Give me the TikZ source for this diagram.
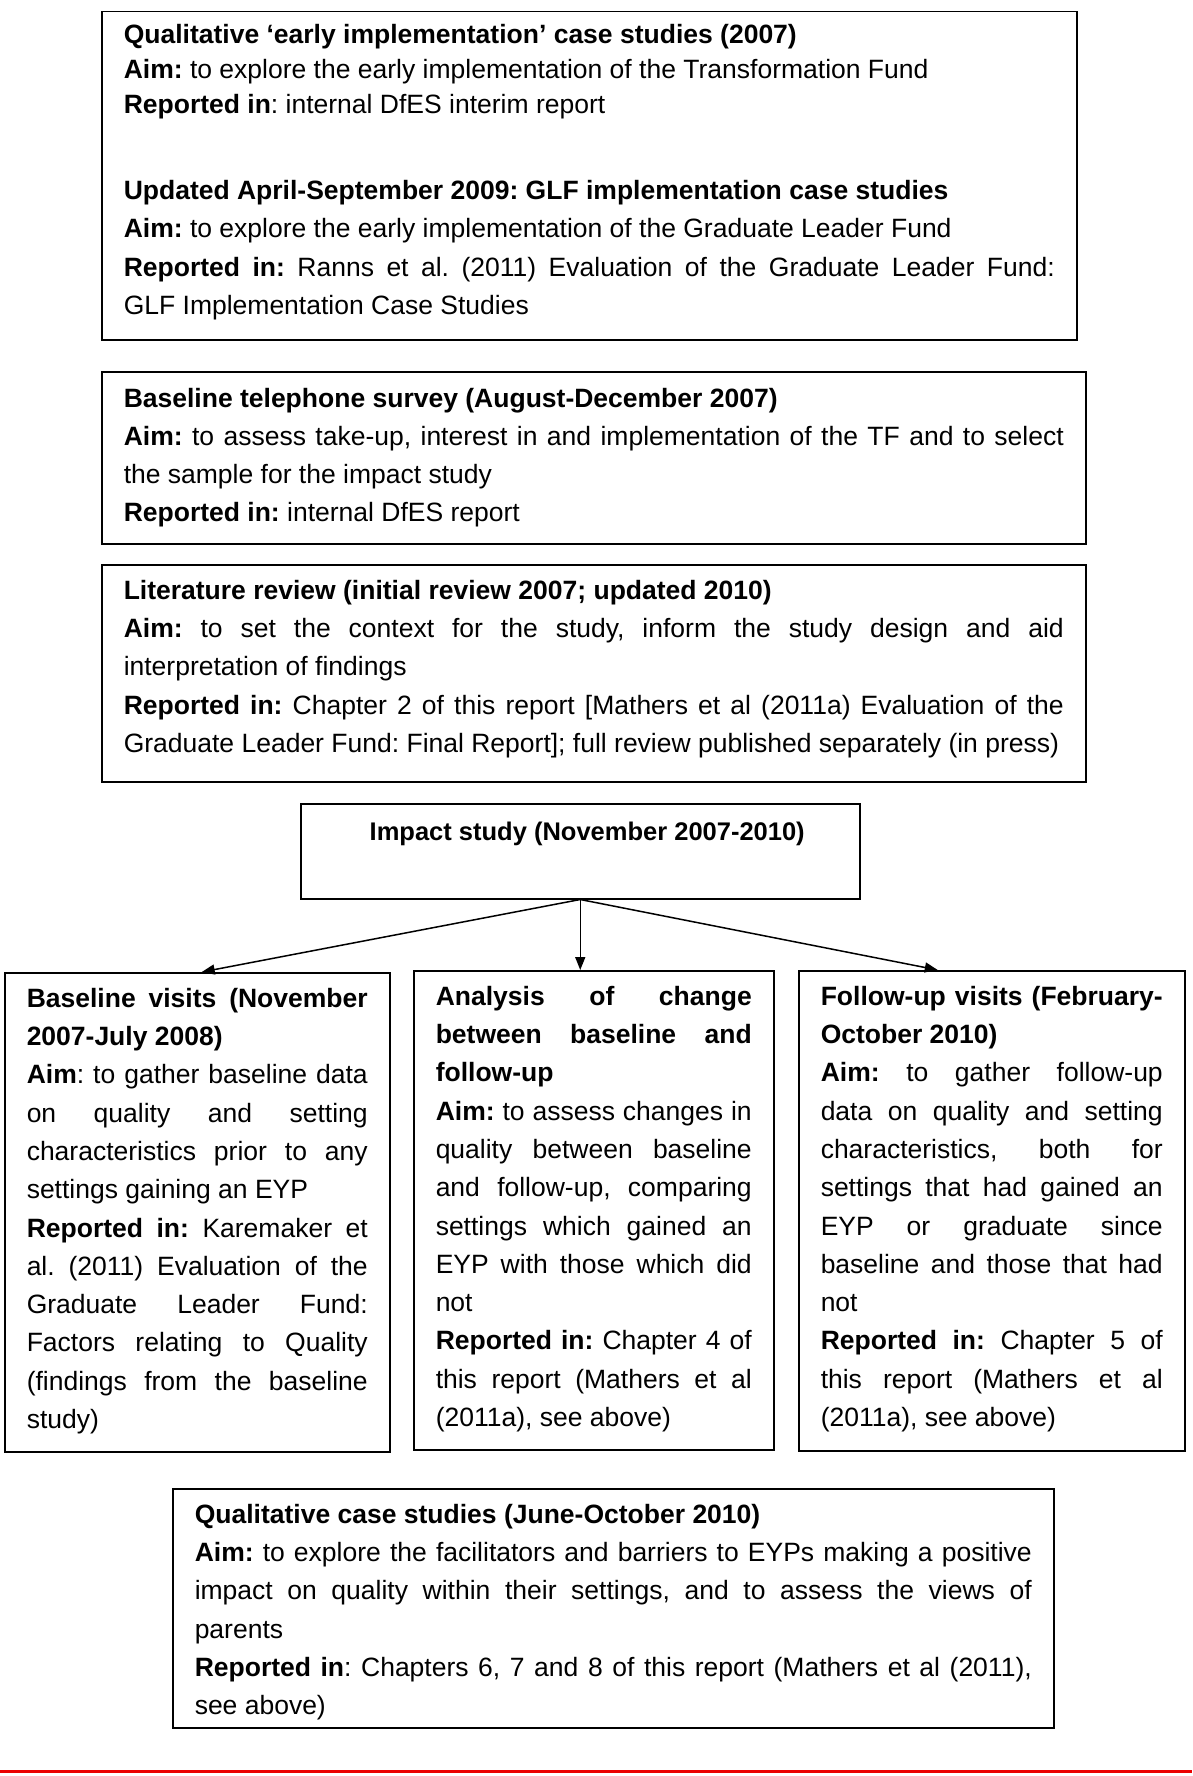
\documentclass[tikz,border=0pt]{standalone}
\usepackage{fontspec}
\setmainfont{Liberation Sans}
\usetikzlibrary{arrows.meta}
\frenchspacing
\newcommand{\jl}[1]{\makebox[\linewidth][s]{#1}}
\newcommand{\bx}[4][34.5]{\begin{minipage}[c][#3pt][t]{#2pt}\raggedright\frenchspacing\fontsize{26.5}{38.3}\selectfont\rule{0pt}{#1pt}#4\end{minipage}}
\definecolor{sepred}{RGB}{235,0,0}
\tikzset{
  boxsty/.style={draw, line width=1.5pt, inner sep=0pt, anchor=north west, rectangle},
  arr/.style={line width=1.5pt, -{Triangle[length=13pt,width=10pt]}}
}
\begin{document}
\begin{tikzpicture}[x=1pt,y=-1pt]
\useasboundingbox (0,0) rectangle (1192,1776);

\node[boxsty, minimum width=975pt, minimum height=328pt] (b1) at (101,11) {\bx[32.2]{931}{328}{%
\textbf{Qualitative ‘early implementation’ case studies (2007)}\\[-3.3pt]
\textbf{Aim:} to explore the early implementation of the Transformation Fund\\[-3.3pt]
\textbf{Reported in}: internal DfES interim report\\[47.2pt]
\textbf{Updated April-September 2009: GLF implementation case studies}\\
\textbf{Aim:} to explore the early implementation of the Graduate Leader Fund\\
\jl{\textbf{Reported in:} Ranns et al. (2011) Evaluation of the Graduate Leader Fund:}\\
GLF Implementation Case Studies}};

\node[boxsty, minimum width=984pt, minimum height=172pt] (b2) at (101,371) {\bx[36]{940}{172}{%
\textbf{Baseline telephone survey (August-December 2007)}\\[-1pt]
\jl{\textbf{Aim:} to assess take-up, interest in and implementation of the TF and to select}\\
the sample for the impact study\\
\textbf{Reported in:} internal DfES report}};

\node[boxsty, minimum width=984pt, minimum height=217pt] (b3) at (101,564) {\bx{940}{217}{%
\textbf{Literature review (initial review 2007; updated 2010)}\\
\jl{\textbf{Aim:} to set the context for the study, inform the study design and aid}\\
interpretation of findings\\
\jl{\textbf{Reported in:} Chapter 2 of this report [Mathers et al (2011a) Evaluation of the}\\
Graduate Leader Fund: Final Report]; full review published separately (in press)}};

\node[boxsty, minimum width=559pt, minimum height=95pt] (imp) at (300,803) {\begin{minipage}[c][95pt][t]{515pt}\centering\fontsize{25.5}{38.3}\selectfont\rule{0pt}{37pt}\hspace*{14pt}\textbf{Impact study (November 2007-2010)}\end{minipage}};

\node[boxsty, minimum width=385pt, minimum height=479pt] (b5) at (4,972) {\bx{341}{479}{%
\jl{\textbf{Baseline visits (November}}\\
\textbf{2007-July 2008)}\\
\jl{\textbf{Aim}: to gather baseline data}\\
\jl{on quality and setting}\\
\jl{characteristics prior to any}\\
settings gaining an EYP\\
\jl{\textbf{Reported in:} Karemaker et}\\
\jl{al. (2011) Evaluation of the}\\
\jl{Graduate Leader Fund:}\\
\jl{Factors relating to Quality}\\
\jl{(findings from the baseline}\\
study)}};

\node[boxsty, minimum width=360pt, minimum height=479pt] (b6) at (413,970) {\bx{316}{479}{%
\jl{\textbf{Analysis of change}}\\
\jl{\textbf{between baseline and}}\\
\textbf{follow-up}\\
\jl{\textbf{Aim:} to assess changes in}\\
\jl{quality between baseline}\\
\jl{and follow-up, comparing}\\
\jl{settings which gained an}\\
\jl{EYP with those which did}\\
not\\
\jl{\textbf{Reported in:} Chapter 4 of}\\
\jl{this report (Mathers et al}\\
(2011a), see above)}};

\node[boxsty, minimum width=386pt, minimum height=480pt] (b7) at (798,970) {\bx{342}{480}{%
\jl{\textbf{Follow-up visits (February-}}\\
\textbf{October 2010)}\\
\jl{\textbf{Aim:} to gather follow-up}\\
\jl{data on quality and setting}\\
\jl{characteristics, both for}\\
\jl{settings that had gained an}\\
\jl{EYP or graduate since}\\
\jl{baseline and those that had}\\
not\\
\jl{\textbf{Reported in:} Chapter 5 of}\\
\jl{this report (Mathers et al}\\
(2011a), see above)}};

\node[boxsty, minimum width=881pt, minimum height=239pt] (b8) at (172,1488) {\bx{837}{239}{%
\textbf{Qualitative case studies (June-October 2010)}\\
\jl{\textbf{Aim:} to explore the facilitators and barriers to EYPs making a positive}\\
\jl{impact on quality within their settings, and to assess the views of}\\
parents\\
\jl{\textbf{Reported in}: Chapters 6, 7 and 8 of this report (Mathers et al (2011),}\\
see above)}};

\coordinate (o) at (imp.south);
\draw[arr] (o) -- ([xshift=4.5pt]b5.north);
\draw[arr] (o) -- (o |- b6.north);
\draw[arr] (o) -- ([xshift=-54pt]b7.north);

\draw[sepred, line width=3pt] (0,1771) -- (1192,1771);
\end{tikzpicture}
\end{document}
